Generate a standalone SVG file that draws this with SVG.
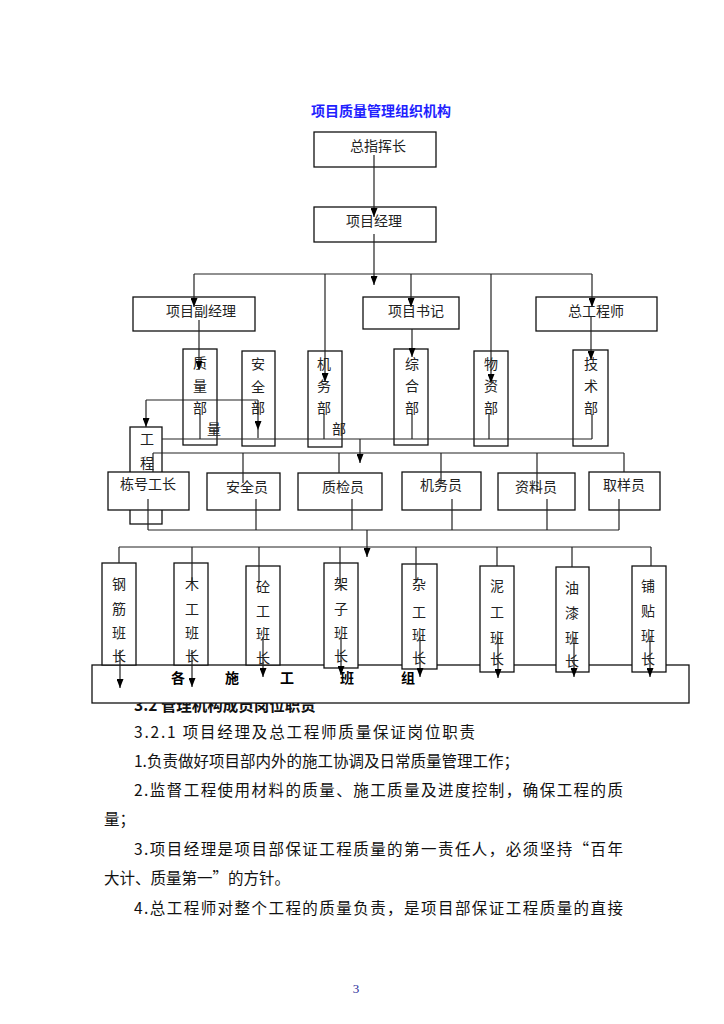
<svg xmlns="http://www.w3.org/2000/svg" width="724" height="1024" viewBox="0 0 724 1024">
<style>
.box{fill:#fff;stroke:#111;stroke-width:1.3}
.ln{stroke:#222;stroke-width:1.2;fill:none}
.ar{marker-end:url(#ah)}
.t{font-family:"Noto Sans CJK SC","Noto Sans",sans-serif;font-size:14px;fill:#222;text-anchor:middle;dominant-baseline:central}
.b{font-weight:bold;fill:#000}
.p{font-family:"Noto Sans CJK SC","Noto Sans",sans-serif;font-size:15.5px;fill:#111;dominant-baseline:central}
</style>
<defs>
<marker id="ah" viewBox="0 0 9 7" refX="9" refY="3.5" markerWidth="9" markerHeight="7" markerUnits="userSpaceOnUse" orient="auto">
<path d="M0,0 L9,3.5 L0,7 z" fill="#000"/>
</marker>
</defs>
<rect width="724" height="1024" fill="#fff"/>

<text x="381" y="110" class="t b" style="font-size:14px;fill:#1f1fff">项目质量管理组织机构</text>

<!-- body text (heading partially hidden behind the big box) -->
<text x="134" y="704" class="p" style="font-weight:bold">3.2 管理机构成员岗位职责</text>

<g id="n-all-teams"><rect class="box" x="92" y="665" width="597" height="38"/>
<text class="t b" x="178" y="677">各</text><text class="t b" x="232" y="677">施</text><text class="t b" x="287" y="677">工</text><text class="t b" x="347" y="677">班</text><text class="t b" x="408" y="677">组</text></g>

<g id="n-top"><rect class="box" x="314" y="132" width="122" height="35"/><text class="t" x="378" y="145">总指挥长</text></g>
<g id="n-pm"><rect class="box" x="314" y="207" width="122" height="35"/><text class="t" x="374" y="220">项目经理</text></g>
<g id="n-dpm"><rect class="box" x="133" y="297" width="122" height="34"/><text class="t" x="201" y="310">项目副经理</text></g>
<g id="n-sec"><rect class="box" x="363" y="297" width="96" height="32"/><text class="t" x="416" y="310">项目书记</text></g>
<g id="n-ce"><rect class="box" x="536" y="297" width="121" height="34"/><text class="t" x="596" y="310">总工程师</text></g>

<g id="n-zl"><rect class="box" x="183" y="349" width="34" height="96"/><text class="t" x="200" y="362">质</text><text class="t" x="200" y="385">量</text><text class="t" x="200" y="407">部</text><text class="t" x="214" y="428">量</text></g>
<g id="n-aq"><rect class="box" x="242" y="351" width="33" height="95"/><text class="t" x="258" y="363">安</text><text class="t" x="258" y="386">全</text><text class="t" x="258" y="407">部</text></g>
<g id="n-jw"><rect class="box" x="308" y="351" width="34" height="96"/><text class="t" x="324" y="363">机</text><text class="t" x="324" y="385">务</text><text class="t" x="324" y="407">部</text><text class="t" x="339" y="428">部</text></g>
<g id="n-zh"><rect class="box" x="394" y="349" width="34" height="96"/><text class="t" x="412" y="363">综</text><text class="t" x="412" y="385">合</text><text class="t" x="412" y="407">部</text></g>
<g id="n-wz"><rect class="box" x="474" y="351" width="34" height="95"/><text class="t" x="491" y="363">物</text><text class="t" x="491" y="385">资</text><text class="t" x="491" y="407">部</text></g>
<g id="n-js"><rect class="box" x="573" y="350" width="35" height="96"/><text class="t" x="591" y="363">技</text><text class="t" x="591" y="385">术</text><text class="t" x="591" y="407">部</text></g>

<g id="n-gc"><rect class="box" x="130" y="427" width="32" height="97"/><text class="t" x="147" y="438">工</text><text class="t" x="147" y="462">程</text></g>
<g id="n-dh"><rect class="box" x="108" y="472" width="81" height="38"/><text class="t" x="148" y="483">栋号工长</text></g>
<g id="n-aqy"><rect class="box" x="207" y="473" width="73" height="37"/><text class="t" x="247" y="486">安全员</text></g>
<g id="n-zjy"><rect class="box" x="298" y="473" width="84" height="37"/><text class="t" x="343" y="486">质检员</text></g>
<g id="n-jwy"><rect class="box" x="402" y="472" width="79" height="38"/><text class="t" x="441" y="484">机务员</text></g>
<g id="n-zly"><rect class="box" x="498" y="473" width="77" height="37"/><text class="t" x="536" y="486">资料员</text></g>
<g id="n-qyy"><rect class="box" x="589" y="472" width="71" height="38"/><text class="t" x="624" y="484">取样员</text></g>

<g id="n-gj"><rect class="box" x="102" y="563" width="34" height="102"/><text class="t" x="119" y="583">钢</text><text class="t" x="119" y="608">筋</text><text class="t" x="119" y="632">班</text><text class="t" x="119" y="655">长</text></g>
<g id="n-mg"><rect class="box" x="174" y="563" width="34" height="102"/><text class="t" x="192" y="583">木</text><text class="t" x="192" y="608">工</text><text class="t" x="192" y="632">班</text><text class="t" x="192" y="655">长</text></g>
<g id="n-tg"><rect class="box" x="246" y="566" width="34" height="99"/><text class="t" x="263" y="586">砼</text><text class="t" x="263" y="610">工</text><text class="t" x="263" y="633">班</text><text class="t" x="263" y="657">长</text></g>
<g id="n-jz"><rect class="box" x="324" y="563" width="34" height="105"/><text class="t" x="341" y="583">架</text><text class="t" x="341" y="608">子</text><text class="t" x="341" y="632">班</text><text class="t" x="341" y="655">长</text></g>
<g id="n-zg"><rect class="box" x="402" y="564" width="35" height="105"/><text class="t" x="419" y="583">杂</text><text class="t" x="419" y="611">工</text><text class="t" x="419" y="634">班</text><text class="t" x="419" y="657">长</text></g>
<g id="n-ng"><rect class="box" x="480" y="566" width="34" height="106"/><text class="t" x="497" y="585">泥</text><text class="t" x="497" y="611">工</text><text class="t" x="497" y="637">班</text><text class="t" x="497" y="658">长</text></g>
<g id="n-yq"><rect class="box" x="556" y="567" width="33" height="105"/><text class="t" x="572" y="587">油</text><text class="t" x="572" y="612">漆</text><text class="t" x="572" y="637">班</text><text class="t" x="572" y="660">长</text></g>
<g id="n-pt"><rect class="box" x="632" y="566" width="34" height="106"/><text class="t" x="648" y="585">铺</text><text class="t" x="648" y="610">贴</text><text class="t" x="648" y="635">班</text><text class="t" x="648" y="658">长</text></g>

<g id="connectors">
<path class="ln ar" d="M374,155 V217"/>
<path class="ln ar" d="M374,234 V285"/>
<path class="ln" d="M194,274 H592"/>
<path class="ln ar" d="M194,274 V307"/>
<path class="ln ar" d="M325,274 V382"/>
<path class="ln ar" d="M411,274 V307"/>
<path class="ln ar" d="M491,274 V383"/>
<path class="ln ar" d="M592,274 V307"/>
<path class="ln ar" d="M199,320 V370"/>
<path class="ln ar" d="M412,329 V357"/>
<path class="ln ar" d="M591,317 V360"/>
<path class="ln" d="M146,400 H258"/>
<path class="ln ar" d="M146,400 V427"/>
<path class="ln ar" d="M258,400 V430"/>
<path class="ln" d="M258,430 V438"/>
<path class="ln" d="M200,414 V439 M324,414 V439 M412,414 V439 M489,414 V439 M592,414 V439"/>
<path class="ln" d="M162,439 H592"/>
<path class="ln ar" d="M360,439 V463"/>
<path class="ln" d="M153,453 H624 M153,453 V472 M243,453 V483 M339,453 V473 M441,453 V483 M537,453 V492 M624,453 V472"/>
<path class="ln" d="M148,499 V530 M256,499 V530 M352,499 V530 M452,499 V530 M547,499 V530 M619,499 V530 M148,530 H619"/>
<path class="ln ar" d="M367,530 V557"/>
<path class="ln" d="M119,547 H651 M119,547 V563 M192,547 V583 M259,547 V583 M340,547 V583 M416,547 V583 M497,547 V566 M572,547 V567 M651,547 V566"/>
<path class="ln ar" d="M120,650 V688"/>
<path class="ln ar" d="M192,650 V687"/>
<path class="ln ar" d="M263,637 V677"/>
<path class="ln ar" d="M341,637 V675"/>
<path class="ln ar" d="M420,637 V677"/>
<path class="ln ar" d="M498,637 V678"/>
<path class="ln ar" d="M574,637 V677"/>
<path class="ln ar" d="M650,637 V677"/>
</g>

<text class="p" x="134" y="731" textLength="341" lengthAdjust="spacing">3.2.1 项目经理及总工程师质量保证岗位职责</text>
<text class="p" x="134" y="760">1.负责做好项目部内外的施工协调及日常质量管理工作；</text>
<text class="p" x="134" y="789" textLength="489" lengthAdjust="spacing">2.监督工程使用材料的质量、施工质量及进度控制，确保工程的质</text>
<text class="p" x="104" y="818">量；</text>
<text class="p" x="134" y="848" textLength="489" lengthAdjust="spacing">3.项目经理是项目部保证工程质量的第一责任人，必须坚持“百年</text>
<text class="p" x="104" y="877">大计、质量第一”的方针。</text>
<text class="p" x="134" y="907" textLength="489" lengthAdjust="spacing">4.总工程师对整个工程的质量负责，是项目部保证工程质量的直接</text>

<text x="356" y="993" style="font-family:'Liberation Serif',serif;font-size:13px;fill:#2a2a9a;text-anchor:middle">3</text>
</svg>
